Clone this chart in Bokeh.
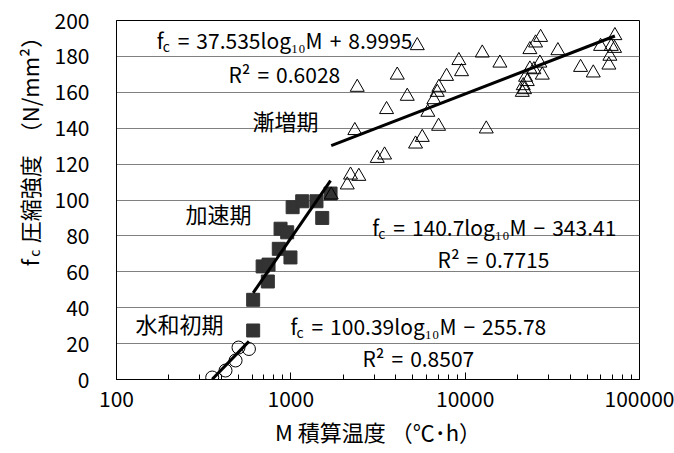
import numpy as np
from bokeh.plotting import figure
from bokeh.layouts import row
from bokeh.models import FixedTicker, NumeralTickFormatter, Label, Range1d
from bokeh.core.properties import value
from bokeh.embed import file_html
from bokeh.resources import INLINE

# 水和初期 : open circles
hyd_M = [354, 422, 482, 501, 575]
hyd_fc = [1.1, 5.0, 10.6, 17.8, 17.0]

# 加速期 : filled squares
acc_M = [608, 608, 689, 745, 738, 853, 995, 873, 953, 1024, 1162, 1403, 1514, 1690]
acc_fc = [27.3, 44.4, 63.0, 64.0, 54.6, 72.8, 68.0, 84.0, 82.0, 96.0, 99.3, 99.3, 90.0, 103.6]

# 漸増期 : open triangles
gra_M = [5312, 12535, 9202, 9535, 4078, 7823, 2404, 7066, 6918, 4654, 6614, 3541,
         6109, 2329, 7038, 13216, 5674, 5193, 3449, 3131, 2455, 2200, 2107, 1705,
         15817, 27082, 25344, 23509, 34025, 26834, 23509, 24785, 27693, 22210, 22716,
         21544, 21262, 21900, 45930, 54310, 59810, 72250, 68880, 71950, 67630, 66750]
gra_fc = [186.0, 181.9, 177.7, 171.5, 169.6, 168.9, 162.8, 162.8, 160.0, 157.8, 155.9, 150.4,
          148.9, 138.7, 141.1, 139.6, 134.9, 131.2, 125.1, 123.2, 113.2, 113.9, 108.4, 102.8,
          176.3, 190.6, 187.5, 183.8, 183.2, 176.3, 173.0, 172.6, 169.6, 168.4, 166.0,
          163.7, 160.0, 161.5, 173.9, 170.8, 185.6, 191.6, 185.6, 184.5, 180.1, 175.2]

# logarithmic fits fc = a*log10(M) + b, with R^2
fit_hyd = (100.39, -255.78, 0.8507)
fit_acc = (140.7, -343.41, 0.7715)
fit_gra = (37.535, 8.9995, 0.6028)

x_ticks = [100, 1000, 10000, 100000]
y_ticks = list(range(0, 201, 20))

FONT = "Noto Sans CJK JP"
SP = "\u2004"  # a slightly wider space around operators
TITLE_W = 50

p = figure(width=674 - TITLE_W, height=453, x_axis_type="log",
           x_range=Range1d(100, 100000), y_range=Range1d(0, 200),
           output_backend="svg", toolbar_location=None,
           min_border_left=116 - TITLE_W, min_border_right=35,
           min_border_top=20, min_border_bottom=74)
p.background_fill_color = "white"
p.border_fill_color = "white"
p.outline_line_color = "black"
p.outline_line_width = 1

minor = [m * 10 ** k for k in range(2, 5) for m in range(2, 10)]
p.xaxis.ticker = FixedTicker(ticks=x_ticks, minor_ticks=minor)
p.xaxis.formatter = NumeralTickFormatter(format="0")
p.xaxis.major_tick_in = 7
p.xaxis.major_tick_out = 0
p.xaxis.minor_tick_in = 5
p.xaxis.minor_tick_out = 0
p.xaxis.major_label_standoff = 11
p.xaxis.axis_label = "M 積算温度 （℃･h）"
p.xaxis.axis_label_text_font = FONT
p.xaxis.axis_label_text_font_size = "22px"
p.xaxis.axis_label_text_font_style = "normal"
p.xaxis.axis_label_text_color = "black"
p.xaxis.axis_label_standoff = 5

p.yaxis.ticker = FixedTicker(ticks=y_ticks)
p.yaxis.major_tick_in = 0
p.yaxis.major_tick_out = 0
p.yaxis.minor_tick_line_color = None
p.yaxis.major_label_standoff = 27

for ax in (p.xaxis, p.yaxis):
    ax.axis_line_color = "black"
    ax.major_tick_line_color = "black"
    ax.major_label_text_font = FONT
    ax.major_label_text_font_size = "21px"
    ax.major_label_text_color = "black"
p.xaxis.minor_tick_line_color = "black"

p.xgrid.visible = False
p.ygrid.ticker = FixedTicker(ticks=y_ticks)
p.ygrid.grid_line_color = "#808080"
p.ygrid.grid_line_width = 1

# data points
p.scatter(hyd_M, hyd_fc, marker="circle", size=13, fill_color=None,
          line_color="black", line_width=1)
p.scatter(acc_M, acc_fc, marker="square", size=13, fill_color="#333333",
          line_color="#333333")
p.scatter(gra_M, gra_fc, marker="triangle", size=14, fill_color=None,
          line_color="black", line_width=1)

# trend lines over each group's range
for M, (a, b, _) in ((hyd_M, fit_hyd), (acc_M, fit_acc), (gra_M, fit_gra)):
    xs = np.array([min(M), max(M)], dtype=float)
    p.line(xs, a * np.log10(xs) + b, line_color="black", line_width=3)


def text(x, y, s, size="21px", **kw):
    p.add_layout(Label(x=x, y=y, text=s, text_font=FONT, text_font_size=size,
                       text_color="black", text_baseline="middle",
                       text_align="left", **kw))


def equation(x, y, fit):
    a, b, _ = fit
    sign = "+" if b >= 0 else "−"
    text(x, y, "f")
    text(x, y, "c", size="14px", x_offset=6, y_offset=-6)
    text(x, y, f"{SP}={SP}{a}log₁₀M{SP}{sign}{SP}{abs(b)}", x_offset=14)


def r2(x, y, fit):
    text(x, y, f"R²{SP}={SP}{fit[2]:.4f}")


equation(170, 188.9, fit_gra)
r2(439, 170, fit_gra)
equation(2930, 84.7, fit_acc)
r2(6950, 66.9, fit_acc)
equation(995, 29.8, fit_hyd)
r2(2577, 12, fit_hyd)

text(603, 144.3, "漸増期", size="22px")
text(249, 93, "加速期", size="22px")
text(128.5, 31.2, "水和初期", size="22px")

# vertical axis title in its own strip (pixel coordinates, y downward)
t = figure(width=TITLE_W, height=453, x_range=Range1d(0, TITLE_W), y_range=Range1d(453, 0),
           output_backend="svg", toolbar_location=None,
           x_axis_location=None, y_axis_location=None, min_border=0)
t.outline_line_color = None
t.grid.visible = False
t.background_fill_color = "white"
t.border_fill_color = "white"
title_x = [28, 33, 28]
title_y = [310, 298, 281]
title_parts = ["f", "c", "圧縮強度　（N/mm²）"]
title_sizes = ["22px", "14px", "22px"]
t.text(x=title_x, y=title_y, text=title_parts, angle=np.pi / 2,
       text_font=value(FONT), text_font_size=title_sizes, text_color="black",
       text_align="left", text_baseline="middle")

layout = row(t, p, spacing=0)
open("out.html", "w").write(file_html(layout, INLINE))
